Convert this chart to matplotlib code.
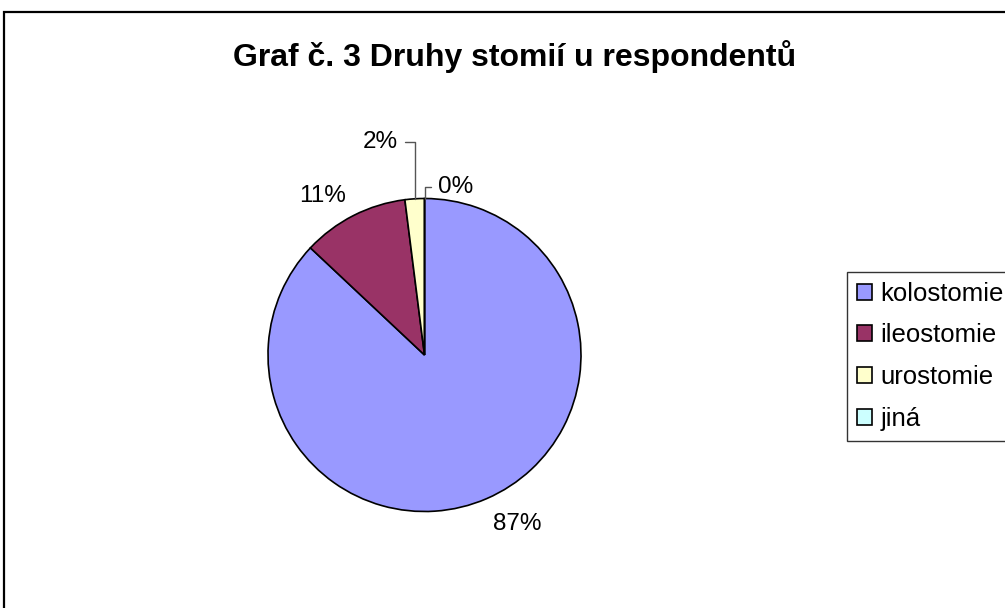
import numpy as np
import matplotlib
matplotlib.use("Agg")
import matplotlib.pyplot as plt
from matplotlib.patches import Rectangle

plt.rcParams['font.family'] = ['Liberation Sans', 'DejaVu Sans']

# Data
categories = ["kolostomie", "ileostomie", "urostomie", "jiná"]
values = [87, 11, 2, 0]
colors = ["#9999FF", "#993366", "#FFFFCC", "#CCFFFF"]
title = "Graf č. 3 Druhy stomií u respondentů"

W, H = 1005, 608
fig = plt.figure(figsize=(W / 100, H / 100), dpi=100)

# outer chart frame (runs off the right and bottom edge)
fig.patches.append(Rectangle((4 / W, -0.1), 1.2, 1 - 12 / H + 0.1,
                             transform=fig.transFigure, fill=False,
                             edgecolor="black", linewidth=1.6))

fig.text(515 / W, 1 - 57 / H, title, ha="center", va="center",
         fontsize=23, fontweight="bold")

# pie axes: centre ~ (424.5, 355), radius ~156.5 px
r_px = 156.5
ax = fig.add_axes([(424.5 - r_px) / W, (H - 355 - r_px) / H, 2 * r_px / W, 2 * r_px / H])
wedges, _ = ax.pie(values, colors=colors, startangle=90, counterclock=False,
                   wedgeprops=dict(edgecolor="black", linewidth=1.2))
ax.set_xlim(-1, 1)
ax.set_ylim(-1, 1)
ax.axis("off")

total = sum(values)
fs = 17.5
for i, (w, v) in enumerate(zip(wedges, values)):
    pct = f"{v / total * 100:.0f}%"
    mid = np.deg2rad((w.theta1 + w.theta2) / 2)
    if v / total >= 0.05:
        c, s = np.cos(mid), np.sin(mid)
        ax.text(1.1 * c, 1.1 * s, pct,
                ha="left" if c > 0 else "right",
                va="top" if s < 0 else "baseline",
                fontsize=fs, clip_on=False)
    else:
        edge = (np.cos(mid), np.sin(mid))
        if i == 2:
            xytext, ha, rel = (-0.169, 1.361), "right", (1, 0.5)
        else:
            xytext, ha, rel = (0.086, 1.073), "left", (0, 0.5)
        ax.annotate(pct, xy=edge, xytext=xytext, ha=ha, va="center", fontsize=fs,
                    annotation_clip=False,
                    arrowprops=dict(arrowstyle="-", color="#555555", lw=1,
                                    connectionstyle="angle,angleA=0,angleB=90,rad=0",
                                    relpos=rel, shrinkA=3, shrinkB=0))

leg = fig.legend(wedges, categories, loc="upper left",
                 bbox_to_anchor=(847 / W, 1 - 272 / H), bbox_transform=fig.transFigure,
                 borderaxespad=0, fontsize=18.5, frameon=True, fancybox=False,
                 edgecolor="black", handlelength=0.58, handleheight=0.58,
                 handletextpad=0.35, labelspacing=0.69, borderpad=0.38)
leg.get_frame().set_linewidth(1.0)

fig.savefig("out.png", dpi=100)
